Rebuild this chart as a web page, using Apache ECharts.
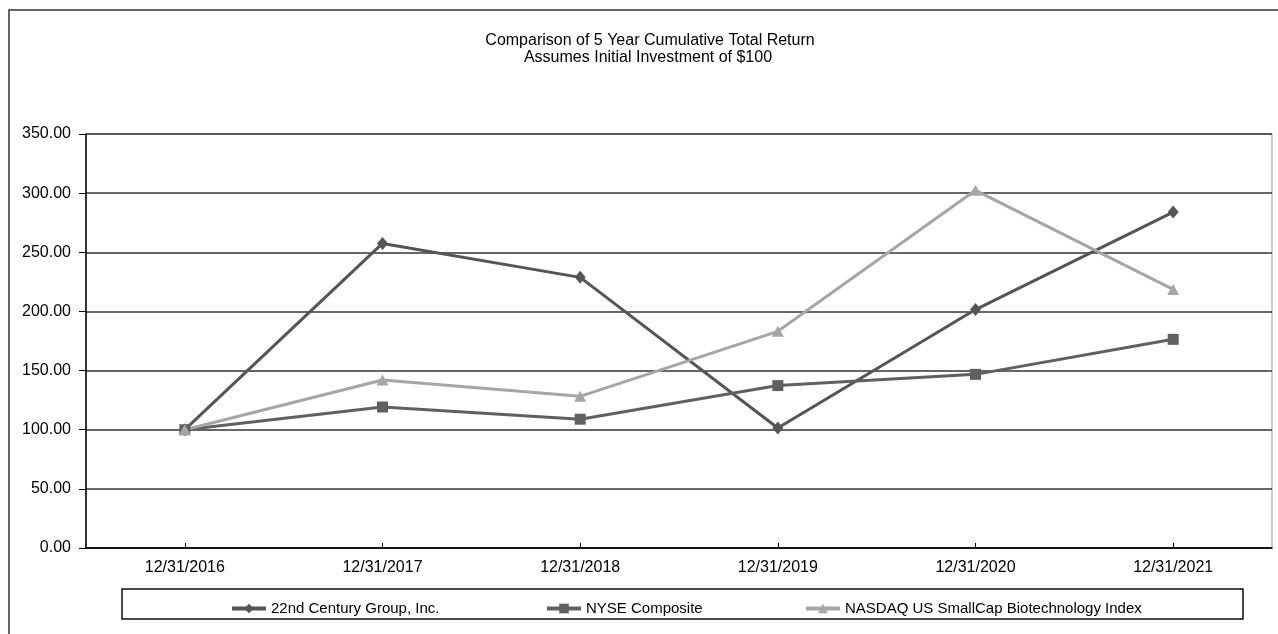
<!DOCTYPE html>
<html>
<head>
<meta charset="utf-8">
<script src="https://cdn.jsdelivr.net/npm/echarts@6/dist/echarts.min.js"></script>
<style>
html,body{margin:0;padding:0;background:#fff;}
#chart{width:1278px;height:634px;}
</style>
</head>
<body>
<div id="chart"></div>
<script>
var titleLines = ['Comparison of 5 Year Cumulative Total Return', 'Assumes Initial Investment of $100'];
var categories = ['12/31/2016', '12/31/2017', '12/31/2018', '12/31/2019', '12/31/2020', '12/31/2021'];
var seriesNames = ['22nd Century Group, Inc.', 'NYSE Composite', 'NASDAQ US SmallCap Biotechnology Index'];
var centuryValues = [100.00, 257.5, 228.8, 101.5, 201.6, 284.0];
var nyseValues = [100.00, 119.2, 108.9, 137.3, 146.8, 176.4];
var nasdaqValues = [100.00, 142.0, 128.2, 183.2, 302.4, 218.6];
var yTicks = [0, 350, 50];

var chart = echarts.init(document.getElementById('chart'), null, {renderer: 'canvas'});
var font = 'Liberation Sans, Arial, sans-serif';
var colors = ['#555555', '#606060', '#a6a6a6'];
var symbols = ['diamond', 'rect', 'triangle'];
var symbolSizes = [[11, 13], [11, 11], [12, 11]];
var dataSets = [centuryValues, nyseValues, nasdaqValues];
var legendLefts = [225, 540, 799];

var option = {
  backgroundColor: '#ffffff',
  animation: false,
  graphic: [
    {type: 'rect', shape: {x: 9, y: 10, width: 1320, height: 700}, style: {fill: 'none', stroke: '#333', lineWidth: 1.5}, silent: true},
    {type: 'rect', shape: {x: 122, y: 589, width: 1121, height: 30}, style: {fill: 'none', stroke: '#111', lineWidth: 1.5}, silent: true},
    {type: 'text', x: 650, y: 41, style: {text: titleLines[0], font: '16px ' + font, fill: '#000', textAlign: 'center', textVerticalAlign: 'middle'}},
    {type: 'text', x: 648, y: 58, style: {text: titleLines[1], font: '16px ' + font, fill: '#000', textAlign: 'center', textVerticalAlign: 'middle'}}
  ],
  legend: seriesNames.map(function (n, i) {
    return {
      data: [n], left: legendLefts[i], top: 596, itemWidth: 34, itemHeight: 12, itemGap: 0,
      lineStyle: {width: 4},
      textStyle: {fontFamily: font, fontSize: 15, color: '#000'}
    };
  }),
  grid: {left: 86, right: 6, top: 134, bottom: 86, show: true, borderColor: '#999', borderWidth: 1},
  xAxis: {
    type: 'category', data: categories, boundaryGap: true,
    axisLine: {lineStyle: {color: '#000', width: 1.5}},
    axisTick: {show: true, inside: true, length: 5, alignWithLabel: true, lineStyle: {color: '#000'}},
    axisLabel: {fontFamily: font, fontSize: 16, color: '#000', margin: 12},
    splitLine: {show: false}
  },
  yAxis: {
    type: 'value', min: yTicks[0], max: yTicks[1], interval: yTicks[2],
    axisLine: {show: true, lineStyle: {color: '#000', width: 1.5}},
    axisTick: {show: true, length: 7, lineStyle: {color: '#000'}},
    axisLabel: {fontFamily: font, fontSize: 16, color: '#000', margin: 15, formatter: function (v) { return v.toFixed(2); }},
    splitLine: {show: true, lineStyle: {color: '#333', width: 1.5}}
  },
  series: seriesNames.map(function (n, i) {
    return {
      name: n, type: 'line', data: dataSets[i],
      symbol: symbols[i], symbolSize: symbolSizes[i], showSymbol: true,
      itemStyle: {color: colors[i]},
      lineStyle: {color: colors[i], width: 3}
    };
  })
};
chart.setOption(option);
</script>
</body>
</html>
